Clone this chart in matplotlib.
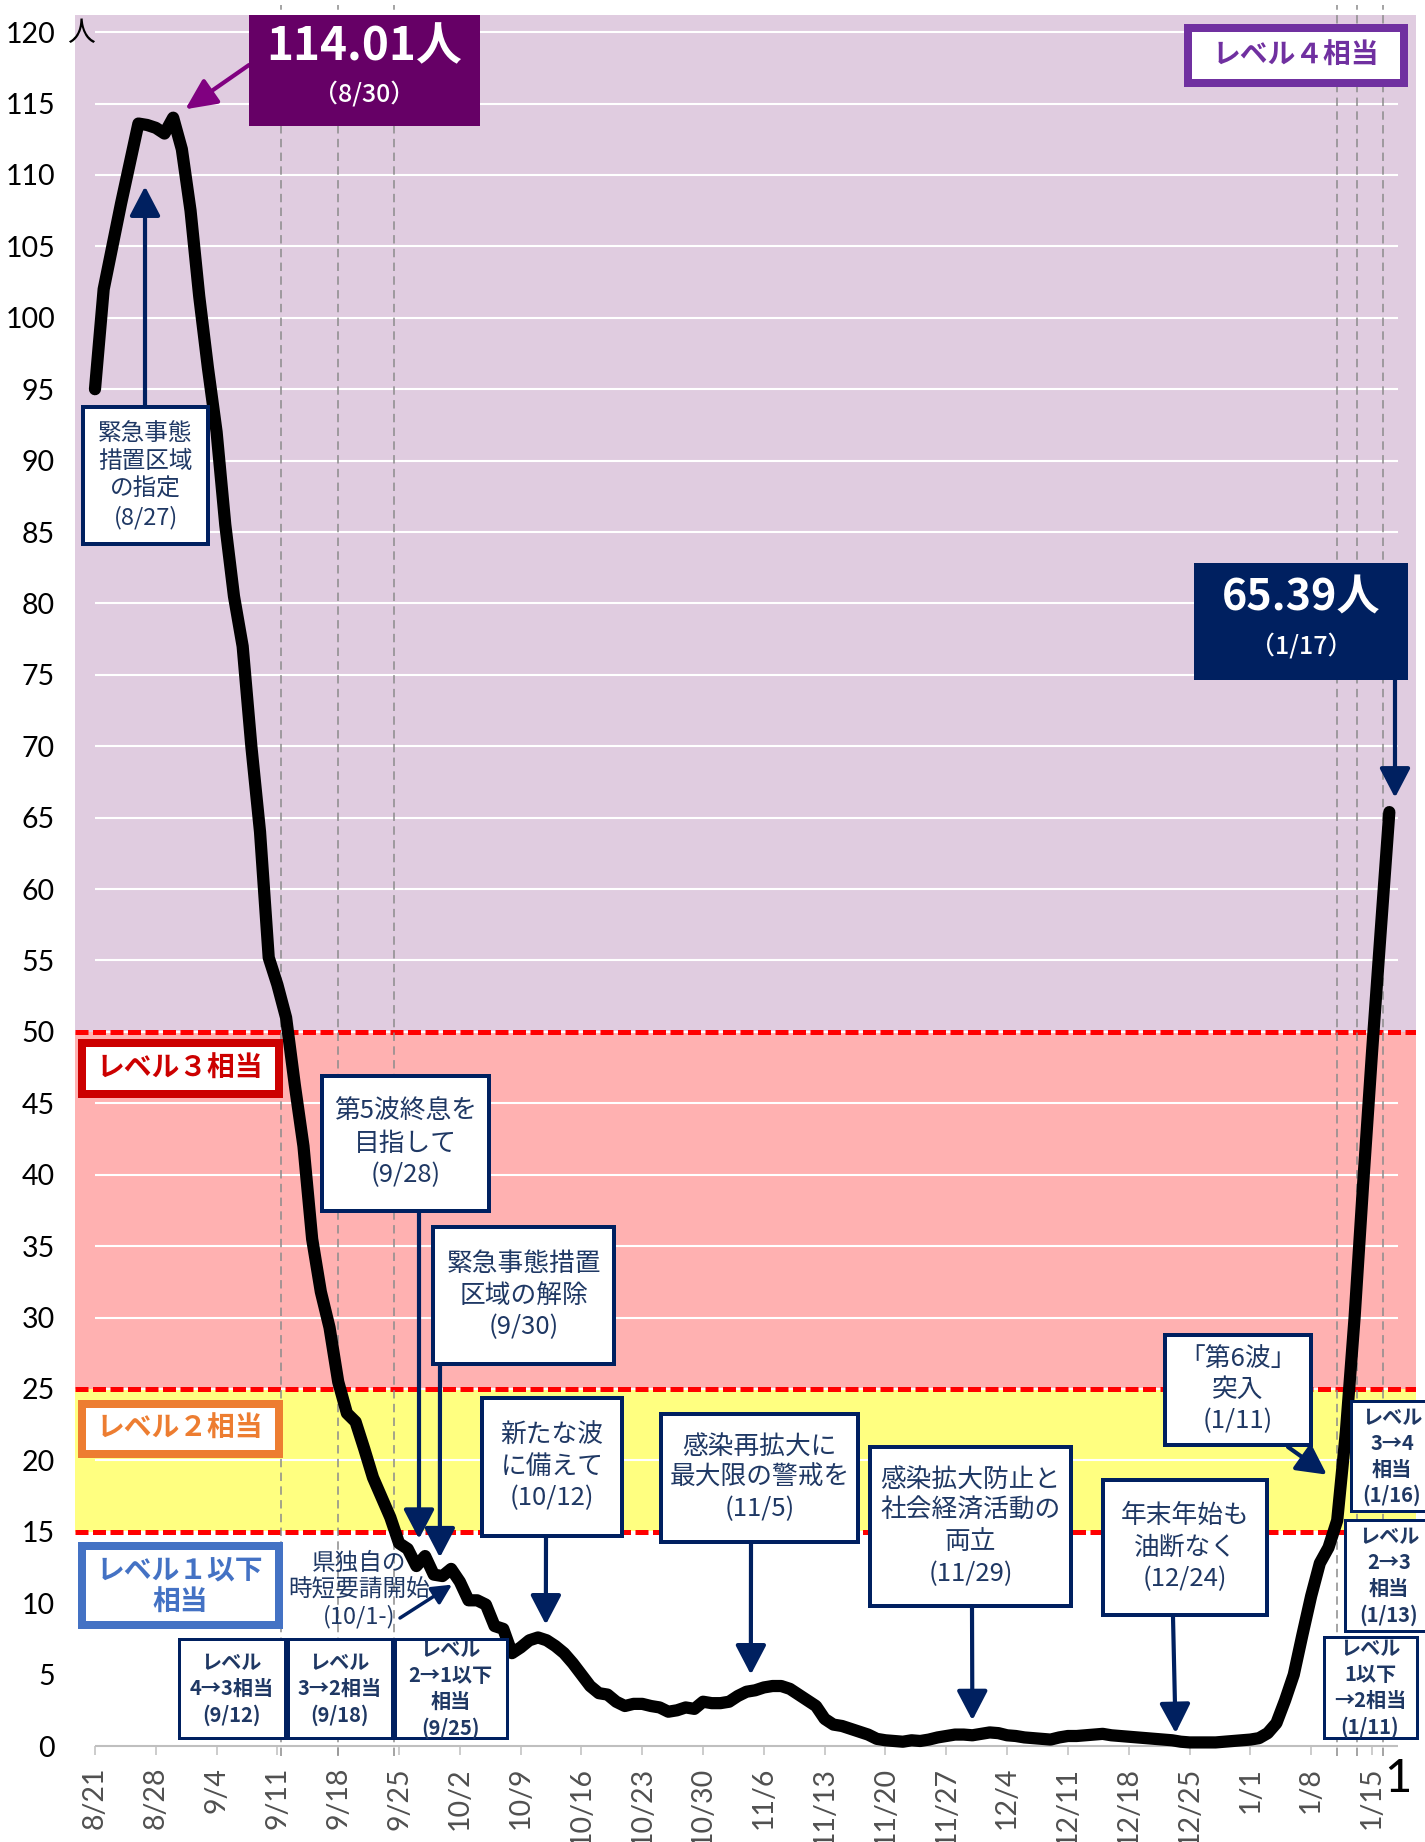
import matplotlib
matplotlib.use("Agg")
import matplotlib.pyplot as plt
from matplotlib.patches import Rectangle
import numpy as np

# ---------------- data ----------------
dates_label = ["8/21", "8/28", "9/4", "9/11", "9/18", "9/25", "10/2", "10/9", "10/16",
               "10/23", "10/30", "11/6", "11/13", "11/20", "11/27", "12/4", "12/11",
               "12/18", "12/25", "1/1", "1/8", "1/15"]
# daily values 8/21 .. 1/17 (per 100k, 7-day)
values = [
    95.0, 102.0, 105.0, 108.0, 110.8, 113.6, 113.5, 113.3, 112.9, 114.01,
    111.8, 107.5, 101.5, 96.5, 92.0, 85.5, 80.5, 77.0, 70.0, 64.0,
    55.2, 53.3, 51.0, 46.3, 42.0, 35.5, 31.8, 29.3, 25.5, 23.3,
    22.7, 20.8, 18.8, 17.4, 16.0, 14.2, 13.8, 12.6, 13.3, 12.0,
    11.9, 12.4, 11.5, 10.2, 10.2, 9.9, 8.4, 8.2, 6.5, 6.9,
    7.4, 7.6, 7.4, 7.0, 6.5, 5.8, 5.0, 4.2, 3.7, 3.6,
    3.1, 2.8, 2.95, 2.95, 2.8, 2.7, 2.4, 2.5, 2.7, 2.6,
    3.1, 3.0, 3.0, 3.1, 3.5, 3.8, 3.9, 4.1, 4.2, 4.2,
    4.0, 3.6, 3.2, 2.8, 1.9, 1.5, 1.4, 1.2, 1.0, 0.8,
    0.5, 0.4, 0.35, 0.3, 0.4, 0.35, 0.45, 0.6, 0.7, 0.8,
    0.8, 0.75, 0.85, 0.95, 0.9, 0.75, 0.7, 0.6, 0.55, 0.5,
    0.45, 0.6, 0.7, 0.7, 0.75, 0.8, 0.85, 0.75, 0.7, 0.65,
    0.6, 0.55, 0.5, 0.45, 0.4, 0.3, 0.25, 0.25, 0.25, 0.25,
    0.3, 0.35, 0.4, 0.45, 0.55, 0.9, 1.6, 3.2, 5.0, 7.8,
    10.5, 12.8, 13.9, 15.8, 22.0, 30.0, 39.5, 48.5, 57.0, 65.39,
]
level_thresholds = [15, 25, 50]
level_change_days = [21.4, 28.0, 34.4, 143.0, 145.3, 148.3]
yticks = list(range(0, 121, 5))

# ---------------- style ----------------
W, H = 1425, 1842
PURPLE_BG = "#E0CCE0"
PINK_BG = "#FFB1B1"
YELLOW_BG = "#FFFF80"
NAVY = "#002060"
NAVY_TXT = "#1F3864"
JP = ["Noto Sans CJK JP", "DejaVu Sans"]
LAT = ["Lato", "DejaVu Sans"]
plt.rcParams["font.family"] = JP

fig = plt.figure(figsize=(W / 100, H / 100), dpi=100)
ax = fig.add_axes([75 / W, 1 - 1746 / H, (1416 - 75) / W, (1746 - 15) / H])
ax.set_xlim(-2.30, 152.07)
ax.set_ylim(0, 121.2)

# bands
ax.axhspan(50, 121.2, color=PURPLE_BG, lw=0, zorder=0)
ax.axhspan(25, 50, color=PINK_BG, lw=0, zorder=0)
ax.axhspan(15, 25, color=YELLOW_BG, lw=0, zorder=0)

# grid
ax.hlines(yticks[1:], 0, 150, colors="white", lw=1.5, zorder=1)
for t in level_thresholds:
    ax.axhline(t, color="#FF0000", lw=3.6, ls=(0, (2.6, 0.9)), zorder=2)
ax.vlines(level_change_days, -0.7, 121.9, colors="#8C8C8C", lw=1.1,
          linestyles=(0, (5.5, 3.5)), zorder=2, clip_on=False)
ax.hlines(0, 0, 150, colors="#BFBFBF", lw=1.5, zorder=2.5, clip_on=False)

x = np.arange(len(values))
ax.plot(x, values, color="black", lw=8.8, solid_joinstyle="round",
        solid_capstyle="round", zorder=3, clip_on=False)

for s in ax.spines.values():
    s.set_visible(False)
ax.set_xticks(np.arange(0, 7 * len(dates_label), 7))
ax.set_xticklabels(dates_label, rotation=90, fontsize=20.5, color="#505050", family=LAT)
ax.tick_params(axis="x", length=6.5, width=1.1, color="#BFBFBF", pad=8.6)
ax.set_yticks(yticks)
ax.set_yticklabels([str(v) for v in yticks], fontsize=20.5, family=LAT)
ax.tick_params(axis="y", length=0, pad=14.4)


def fx(px):
    return px / W


def fy(py):
    return 1 - py / H


def box(x0, y0, x1, y1, ec, lw_px, fc="white", z=5):
    r = Rectangle((fx(x0 + lw_px / 2), fy(y1 - lw_px / 2)),
                  (x1 - x0 - lw_px) / W, (y1 - y0 - lw_px) / H,
                  transform=fig.transFigure, fc=fc, ec=ec, lw=lw_px * 0.72, zorder=z)
    fig.add_artist(r)


def txt(cx, cy, s, size, color, weight="normal", ls=1.25, z=6, family=JP):
    fig.text(fx(cx), fy(cy), s, ha="center", va="center", fontsize=size,
             color=color, fontweight=weight, linespacing=ls, zorder=z, family=family)


def arrow(tail_px, tip_data, color=NAVY, lw=3.0, hl=18, hw=9.4):
    ax.annotate("", xy=tip_data, xycoords="data",
                xytext=(fx(tail_px[0]), fy(tail_px[1])), textcoords="figure fraction",
                arrowprops=dict(arrowstyle=f"-|>,head_length={hl},head_width={hw}",
                                mutation_scale=1, color=color, lw=lw,
                                shrinkA=0, shrinkB=0),
                annotation_clip=False, zorder=7)


# unit
txt(81, 33, "人", 20, "black")

# peak value box
box(249, 15, 480, 126, "#660066", 0, fc="#660066")
txt(364, 47, "114.01人", 33, "white", weight="bold")
txt(364, 94, "（8/30）", 18, "white", weight="medium")
arrow((249, 65), (10.4, 114.6), color="#800080", lw=3.0, hl=19, hw=9)

# latest value box
box(1194, 563, 1408, 680, NAVY, 0, fc=NAVY)
txt(1301, 598, "65.39人", 31, "white", weight="bold")
txt(1301, 647, "（1/17）", 18, "white", weight="medium")
arrow((1395, 680), (149.65, 66.4))

# level labels
box(1184, 24, 1408, 87, "#7030A0", 8)
txt(1296, 56, "レベル４相当", 20, "#7030A0", weight="bold")
box(78, 1039, 283, 1098, "#CC0000", 8)
txt(180, 1069, "レベル３相当", 20, "#CC0000", weight="bold")
box(78, 1400, 283, 1458, "#ED7D31", 8)
txt(180, 1429, "レベル２相当", 20, "#ED7D31", weight="bold")
box(78, 1542, 283, 1629, "#4472C4", 8)
txt(180, 1587, "レベル１以下\n相当", 20, "#4472C4", weight="bold", ls=1.2)

# event boxes
events = [
    ((81, 405, 210, 546), "緊急事態\n措置区域\nの指定\n(8/27)", 17, (145, 405), (5.76, 109.2)),
    ((320, 1074, 491, 1213), "第5波終息を\n目指して\n(9/28)", 18.5, (419, 1213), (37.3, 14.5)),
    ((431, 1225, 616, 1366), "緊急事態措置\n区域の解除\n(9/30)", 18.5, (440, 1366), (39.7, 13.2)),
    ((480, 1396, 624, 1538), "新たな波\nに備えて\n(10/12)", 18.5, (546, 1538), (51.9, 8.5)),
    ((659, 1412, 860, 1544), "感染再拡大に\n最大限の警戒を\n(11/5)", 18.5, (751, 1544), (75.5, 5.0)),
    ((868, 1445, 1073, 1608), "感染拡大防止と\n社会経済活動の\n両立\n(11/29)", 18.5, (972, 1608), (101.0, 1.8)),
    ((1101, 1478, 1269, 1617), "年末年始も\n油断なく\n(12/24)", 18.5, (1173, 1617), (124.4, 0.9)),
    ((1163, 1333, 1313, 1447), "「第6波」\n突入\n(1/11)", 18.5, (1288, 1447), (141.8, 19.0)),
]
for (x0, y0, x1, y1), s, size, tail, tip in events:
    box(x0, y0, x1, y1, NAVY, 4)
    txt((x0 + x1) / 2, (y0 + y1) / 2, s, size, NAVY_TXT, ls=1.27)
    arrow(tail, tip)

# prefecture request (no box)
txt(359, 1590, "県独自の\n時短要請開始\n(10/1-)", 17, NAVY_TXT, ls=1.2)
arrow((400, 1618), (41.1, 11.3), lw=2.5, hl=12, hw=6)

# level change boxes
changes = [
    ((177, 1637, 286, 1739), "レベル\n4→3相当\n(9/12)"),
    ((286, 1637, 393, 1739), "レベル\n3→2相当\n(9/18)"),
    ((393, 1637, 508, 1739), "レベル\n2→1以下\n相当\n(9/25)"),
    ((1322, 1635, 1418, 1739), "レベル\n1以下\n→2相当\n(1/11)"),
    ((1343, 1518, 1432, 1632), "レベル\n2→3\n相当\n(1/13)"),
    ((1349, 1399, 1432, 1512), "レベル\n3→4\n相当\n(1/16)"),
]
for (x0, y0, x1, y1), s in changes:
    box(x0, y0, x1, y1, NAVY, 3)
    cx = (x0 + min(x1, 1425)) / 2 + (5 if x1 > 1425 else 0)
    txt(cx, (y0 + y1) / 2 + 1, s, 14.5, NAVY_TXT, weight="bold", ls=1.28)

# page number
txt(1398, 1779, "1", 34, "black", family=LAT)

fig.savefig("out.png", dpi=100)
